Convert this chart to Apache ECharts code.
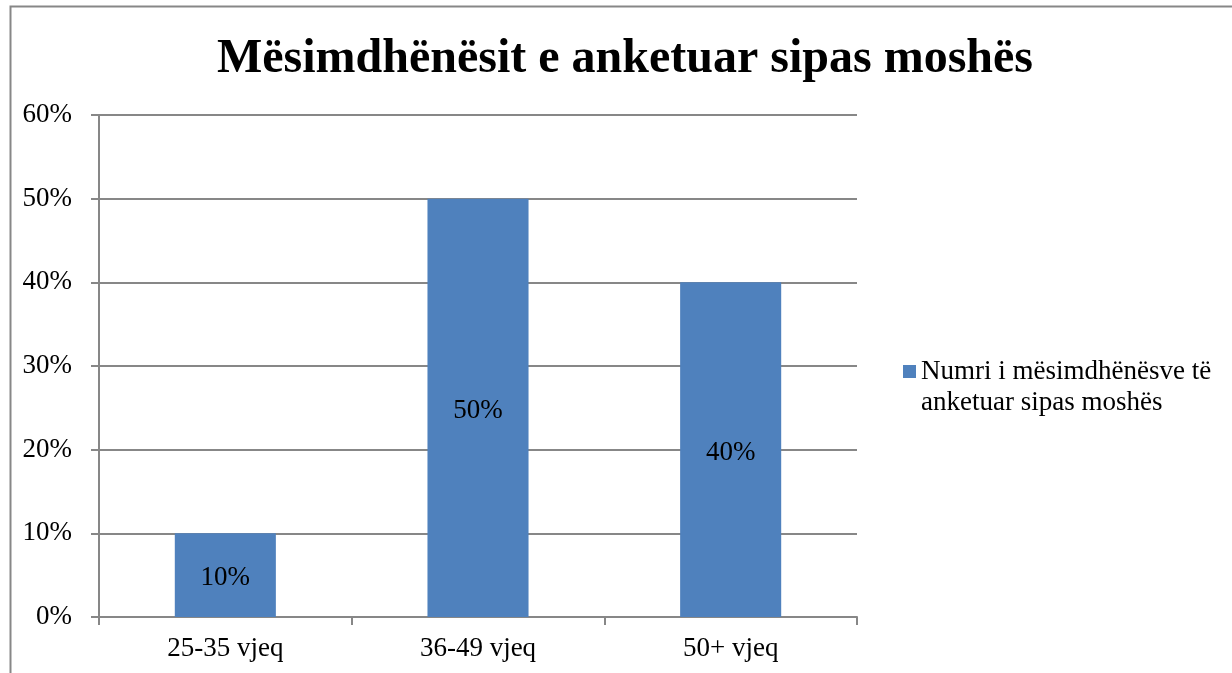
<!DOCTYPE html>
<html>
<head>
<meta charset="utf-8">
<script src="https://cdn.jsdelivr.net/npm/echarts@6/dist/echarts.min.js"></script>
<style>
html,body{margin:0;padding:0;background:#fff;}
#chart{width:1232px;height:673px;}
</style>
</head>
<body>
<div id="chart"></div>
<script>
const categories = ['25-35 vjeq', '36-49 vjeq', '50+ vjeq'];
const values = [0.10, 0.50, 0.40];
const seriesName = 'Numri i mësimdhënësve të anketuar sipas moshës';
const legendLines = ['Numri i mësimdhënësve të', 'anketuar sipas moshës'];
const titleText = 'Mësimdhënësit e anketuar sipas moshës';

const FONT = '"Liberation Serif", "Times New Roman", serif';
const chart = echarts.init(document.getElementById('chart'));
chart.setOption({
  backgroundColor: '#fff',
  animation: false,
  title: {
    text: titleText,
    left: 620, textAlign: 'center',
    top: 31,
    textStyle: { fontFamily: FONT, fontSize: 48, fontWeight: 'bold', color: '#000' }
  },
  graphic: [{
    type: 'rect',
    shape: { x: 10.5, y: 6.5, width: 1400, height: 800 },
    style: { fill: null, stroke: '#878787', lineWidth: 2 },
    silent: true, z: -1
  }],
  legend: {
    left: 898, top: 322,
    orient: 'vertical',
    itemWidth: 13, itemHeight: 13, itemGap: 5,
    icon: 'rect',
    formatter: () => '{s| }\n{a|' + legendLines[0] + '}\n{a|' + legendLines[1] + '}',
    textStyle: {
      fontFamily: FONT, fontSize: 27, color: '#000',
      rich: {
        s: { fontFamily: FONT, fontSize: 27, lineHeight: 31 },
        a: { fontFamily: FONT, fontSize: 27, color: '#000', lineHeight: 31 }
      }
    },
    data: [seriesName]
  },
  grid: { left: 99, right: 375, top: 115, bottom: 56, containLabel: false },
  xAxis: {
    type: 'category',
    data: categories,
    axisLine: { lineStyle: { color: '#878787', width: 2 } },
    axisTick: { show: true, length: 8, lineStyle: { color: '#878787', width: 2 } },
    axisLabel: { fontFamily: FONT, fontSize: 27, color: '#000', margin: 18 }
  },
  yAxis: {
    type: 'value',
    min: 0, max: 0.6, interval: 0.1,
    axisLine: { show: true, lineStyle: { color: '#878787', width: 2 } },
    axisTick: { show: true, length: 8, lineStyle: { color: '#878787', width: 2 } },
    axisLabel: { fontFamily: FONT, fontSize: 27, color: '#000', margin: 27,
      formatter: v => Math.round(v * 100) + '%' },
    splitLine: { lineStyle: { color: '#878787', width: 2 } }
  },
  series: [{
    name: seriesName,
    type: 'bar',
    data: values,
    barWidth: '40%',
    itemStyle: { color: '#4F81BD' },
    label: {
      show: true, position: 'inside', offset: [0, 3],
      fontFamily: FONT, fontSize: 27, color: '#000',
      formatter: p => Math.round(p.value * 100) + '%'
    }
  }]
});
</script>
</body>
</html>
